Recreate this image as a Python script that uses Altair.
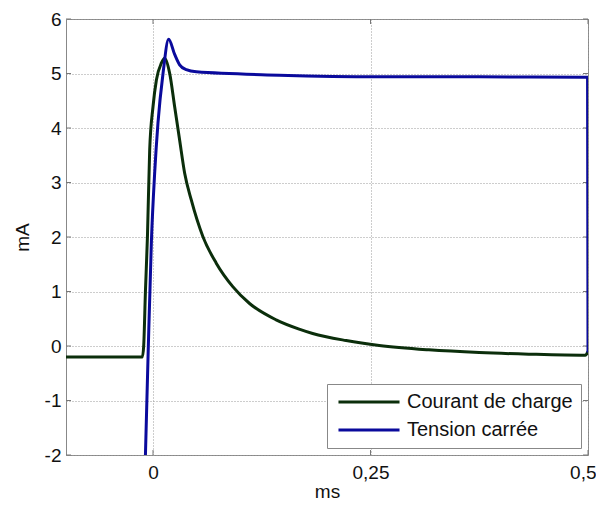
import altair as alt
import pandas as pd

# Courant de charge (green)
t_courant = [-0.1, -0.0122, -0.0107, -0.0087, -0.0064, -0.0038, 0.0, 0.0039, 0.0096, 0.0134,
             0.0192, 0.0249, 0.0306, 0.0364, 0.044, 0.0573, 0.0727, 0.0917, 0.111, 0.1415,
             0.168, 0.1835, 0.222, 0.26, 0.317, 0.375, 0.432, 0.497, 0.5]
i_courant = [-0.2, -0.2, 0.0, 1.0, 2.0, 3.6, 4.39, 4.88, 5.19, 5.28,
             5.0, 4.39, 3.78, 3.17, 2.68, 2.01, 1.52, 1.09, 0.78, 0.48,
             0.31, 0.23, 0.10, 0.01, -0.07, -0.12, -0.15, -0.17, -0.1]

# Tension carrée (blue)
t_tension = [-0.0087, -0.0057, -0.0018, 0.0019, 0.0057, 0.0115, 0.018, 0.0249, 0.0306,
             0.0383, 0.0498, 0.145, 0.26, 0.375, 0.495, 0.4995, 0.5]
i_tension = [-2.0, -0.2, 1.94, 3.17, 4.09, 5.0, 5.63, 5.35, 5.16,
             5.07, 5.03, 4.97, 4.94, 4.94, 4.93, 4.93, -0.12]

series = ["Courant de charge", "Tension carrée"]
colors = ["#0b2e0b", "#0a0a9c"]

x_ticks = [0, 0.25, 0.5]
y_ticks = [-2, -1, 0, 1, 2, 3, 4, 5, 6]

rows = []
for k, (t, v) in enumerate(zip(t_courant, i_courant)):
    rows.append({"t": t, "v": v, "serie": series[0], "i": k})
for k, (t, v) in enumerate(zip(t_tension, i_tension)):
    rows.append({"t": t, "v": v, "serie": series[1], "i": k})
df = pd.DataFrame(rows)

W, H = 522, 436
FONT = "Liberation Sans"
TXT = "#111111"
xscale = alt.Scale(domain=[-0.1, 0.5], nice=False, zero=False)
yscale = alt.Scale(domain=[-2, 6], nice=False, zero=False)

last_x = "datum.value >= 0.5"

lines = alt.Chart(df).mark_line(strokeWidth=3, clip=True, interpolate="monotone").encode(
    x=alt.X("t:Q", scale=xscale, title="ms",
            axis=alt.Axis(values=x_ticks, labelExpr="replace('' + datum.value, '.', ',')",
                          grid=True, gridDash=[1, 2], gridColor="#9a9a9a", ticks=False, domain=False,
                          labelFont=FONT, labelFontSize=19, labelColor=TXT, labelPadding=8,
                          labelFlush=False,
                          labelAlign={"condition": {"test": last_x, "value": "right"}, "value": "center"},
                          labelOffset={"condition": {"test": last_x, "value": 8}, "value": 0},
                          titleFont=FONT, titleFontSize=19, titleFontWeight="normal", titleColor=TXT,
                          titleBaseline="alphabetic", titleY=42)),
    y=alt.Y("v:Q", scale=yscale, title="mA",
            axis=alt.Axis(values=y_ticks, labelExpr="'' + datum.value",
                          grid=True, gridDash=[1, 2], gridColor="#9a9a9a",
                          ticks=False, domain=False,
                          labelFont=FONT, labelFontSize=19, labelColor=TXT, labelPadding=5,
                          titleFont=FONT, titleFontSize=19, titleFontWeight="normal", titleColor=TXT,
                          titleBaseline="alphabetic", titleX=-38)),
    color=alt.Color("serie:N", scale=alt.Scale(domain=series, range=colors),
                    legend=alt.Legend(title=None, orient="none", legendX=261, legendY=365,
                                      direction="vertical", fillColor="white", strokeColor="#888",
                                      padding=8, rowPadding=8, symbolType="M-5,0H5", symbolSize=149,
                                      symbolOffset=24, symbolStrokeWidth=3, labelFont=FONT,
                                      labelFontSize=20, labelColor=TXT, labelOffset=28,
                                      labelLimit=400)),
    order="i:Q",
)

xt = pd.DataFrame({"t": x_ticks})
yt = pd.DataFrame({"v": y_ticks})
tick_color = "#777"
xb = alt.Chart(xt).mark_rule(color=tick_color).encode(x=alt.X("t:Q", scale=xscale), y=alt.value(H), y2=alt.value(H - 5))
xtop = alt.Chart(xt).mark_rule(color=tick_color).encode(x=alt.X("t:Q", scale=xscale), y=alt.value(0), y2=alt.value(5))
yl = alt.Chart(yt).mark_rule(color=tick_color).encode(y=alt.Y("v:Q", scale=yscale), x=alt.value(0), x2=alt.value(5))
yr = alt.Chart(yt).mark_rule(color=tick_color).encode(y=alt.Y("v:Q", scale=yscale), x=alt.value(W), x2=alt.value(W - 5))

chart = alt.layer(xb, xtop, yl, yr, lines).properties(
    width=W, height=H,
    autosize=alt.AutoSizeParams(type="none"),
    padding={"left": 58, "top": 11, "right": 8, "bottom": 44},
    background="white",
).configure_view(stroke="#888", strokeWidth=1)

chart.save("out.html", embed_options={"renderer": "svg", "actions": False})
